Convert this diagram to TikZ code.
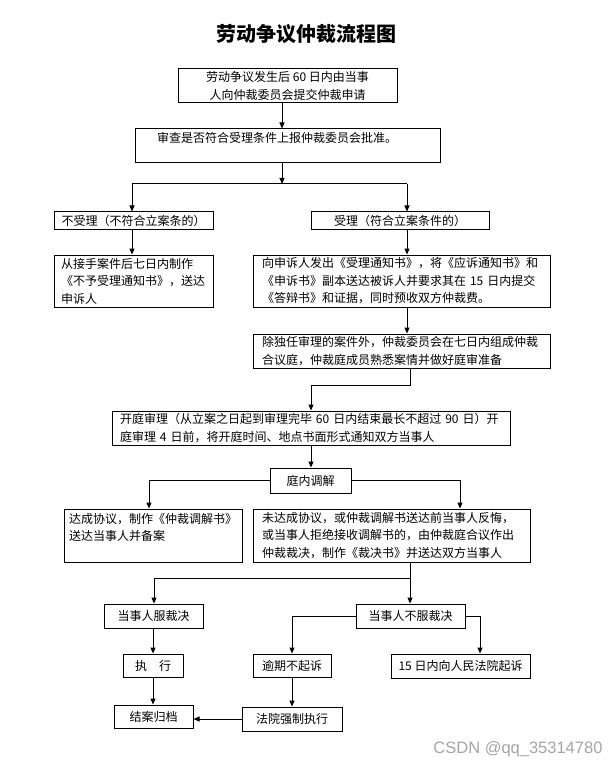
\documentclass[tikz,border=0pt]{standalone}
\usepackage{fontspec}
\setmainfont{Noto Sans CJK SC}
\newfontfamily\wmfont{Liberation Sans}
\usetikzlibrary{arrows.meta}
\begin{document}
\begin{tikzpicture}[x=1pt,y=-1pt,
  box/.style={draw, line width=1pt, inner sep=0pt, font=\fontsize{12}{17.5}\selectfont},
  arr/.style={-{Triangle[length=6pt,width=5pt]}, line width=1pt},
  ln/.style={line width=1pt}]
\path[use as bounding box, fill=white] (0,0) rectangle (614,767);

\node[font=\fontsize{20}{24}\selectfont\bfseries] (title) at (306,34) {劳动争议仲裁流程图};

\node[box, align=center, minimum width=219pt, minimum height=34pt] (b1) at (287.5,86) {劳动争议发生后 60 日内由当事\\人向仲裁委员会提交仲裁申请};
\node[box, align=left, text width=261pt, inner xsep=22pt, minimum height=34pt] (b2) at (287.5,146) {审查是否符合受理条件上报仲裁委员会批准。\\\mbox{}};

\node[box, align=center, minimum width=159pt, minimum height=17pt] (n1) at (133.5,220.5) {不受理（不符合立案条的）};
\node[box, align=center, minimum width=178pt, minimum height=17pt] (y1) at (400,220.5) {受理（符合立案条件的）};

\node[box, align=left, text width=145pt, inner xsep=7pt, minimum height=52pt] (n2) at (133.5,281) {从接手案件后七日内制作\\《不予受理通知书》，送达\\申诉人};
\node[box, align=left, text width=279pt, inner xsep=9pt, minimum height=52pt] (y2) at (401.5,281) {向申诉人发出《受理通知书》，将《应诉通知书》和\\《申诉书》副本送达被诉人并要求其在 15 日内提交\\《答辩书》和证据，同时预收双方仲裁费。};
\node[box, align=left, text width=279pt, inner xsep=9pt, minimum height=34pt] (y3) at (401.5,351) {除独任审理的案件外，仲裁委员会在七日内组成仲裁\\合议庭，仲裁庭成员熟悉案情并做好庭审准备};

\node[box, align=left, text width=382pt, inner xsep=8pt, minimum height=34pt] (k1) at (311,428) {开庭审理（从立案之日起到审理完毕 60 日内结束最长不超过 90 日）开\\庭审理 4 日前，将开庭时间、地点书面形式通知双方当事人};
\node[box, align=center, minimum width=81pt, minimum height=25pt] (k2) at (310.5,480.5) {庭内调解};

\node[box, align=left, text width=168pt, inner xsep=5pt, minimum height=53pt] (m1) at (153,535.5) {达成协议，制作《仲裁调解书》\\送达当事人并备案\\\mbox{}};
\node[box, align=left, text width=259pt, inner xsep=9pt, minimum height=53pt] (m2) at (391.5,535.5) {未达成协议，或仲裁调解书送达前当事人反悔，\\或当事人拒绝接收调解书的，由仲裁庭合议作出\\仲裁裁决，制作《裁决书》并送达双方当事人};

\node[box, align=center, minimum width=99pt, minimum height=24pt] (p1) at (153.5,616) {当事人服裁决};
\node[box, align=center, minimum width=109pt, minimum height=24pt] (p2) at (410.5,616) {当事人不服裁决};

\node[box, align=center, minimum width=60pt, minimum height=23pt] (q1) at (153,665.5) {执\hspace{12pt}行};
\node[box, align=center, minimum width=78pt, minimum height=23pt] (q2) at (292,665.5) {逾期不起诉};
\node[box, align=center, minimum width=139pt, minimum height=24pt] (q3) at (460.5,666) {15 日内向人民法院起诉};

\node[box, align=center, minimum width=79pt, minimum height=23pt] (r1) at (153.5,716.5) {结案归档};
\node[box, align=center, minimum width=100pt, minimum height=24pt] (r2) at (292,719) {法院强制执行};

\node[font=\wmfont\fontsize{16.5}{18}\selectfont, text=gray!70, anchor=east] (wm) at (606,749.5) {CSDN @qq\_35314780};

% connectors
\coordinate (j1) at (282,184);
\coordinate (jL) at (132,184);
\coordinate (jR) at (407,184);
\draw[arr] (b1.south -| j1) -- (b2.north -| j1);
\draw[arr] (b2.south -| j1) -- (j1);
\draw[ln] (jL) -- (jR);
\draw[arr] (jL) -- (n1.north -| jL);
\draw[arr] (jR) -- (y1.north -| jR);
\draw[arr] (n1.south -| jL) -- (n2.north -| jL);
\draw[arr] (y1.south -| jR) -- (y2.north -| jR);
\draw[arr] (y2.south -| jR) -- (y3.north -| jR);

\coordinate (j2) at (410,385);
\coordinate (j3) at (311,385);
\draw[arr] (y3.south -| j2) -- (j2) -- (j3) -- (k1.north -| j3);
\draw[arr] (k1.south -| j3) -- (k2.north -| j3);

\coordinate (j4) at (149,0);
\coordinate (j5) at (460,0);
\draw[arr] (k2.west) -| (m1.north -| j4);
\draw[arr] (k2.east) -| (m2.north -| j5);

\coordinate (j6) at (410,578);
\coordinate (j7) at (154,578);
\draw[arr] (m2.south -| j6) -- (p2.north -| j6);
\draw[arr] (j6) -- (j7) -- (p1.north -| j7);

\coordinate (j8) at (292,0);
\coordinate (j9) at (480,0);
\draw[arr] (p2.west) -| (q2.north -| j8);
\draw[arr] (p2.east) -| (q3.north -| j9);

\draw[arr] (p1.south -| q1) -- (q1.north);
\draw[arr] (q1.south) -- (r1.north -| q1);
\draw[arr] (q2.south) -- (r2.north -| q2);
\draw[arr] (r2.west) -- (r1.east |- r2.west);
\end{tikzpicture}
\end{document}
